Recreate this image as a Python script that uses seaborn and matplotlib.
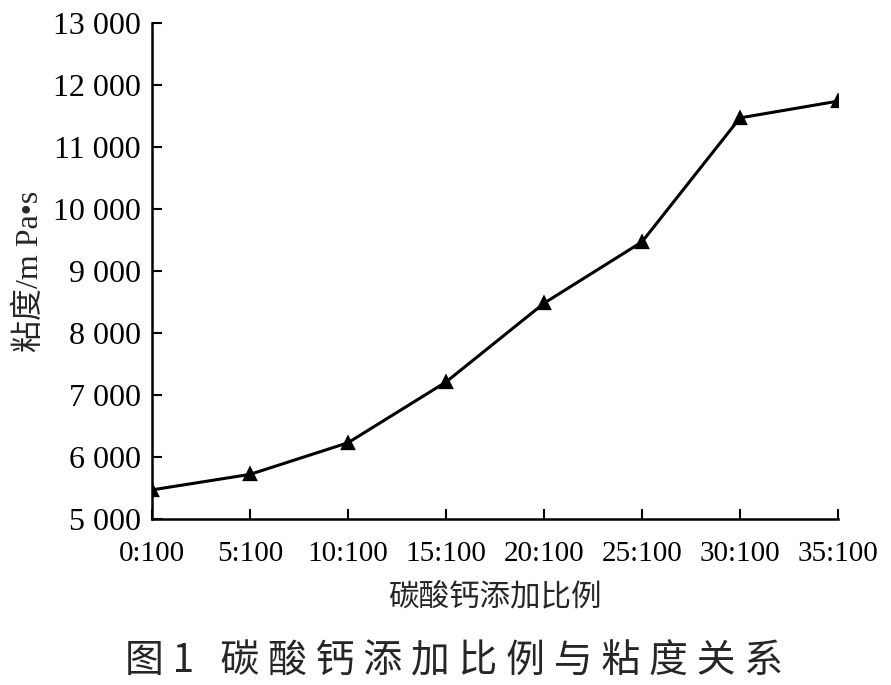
import numpy as np
import pandas as pd
import matplotlib.pyplot as plt
import seaborn as sns

### DATA ###
ratios = ['0:100', '5:100', '10:100', '15:100', '20:100', '25:100', '30:100', '35:100']
viscosity = [5470, 5720, 6230, 7210, 8480, 9470, 11470, 11740]
ytick_values = [5000, 6000, 7000, 8000, 9000, 10000, 11000, 12000, 13000]
ytick_labels = ['5 000', '6 000', '7 000', '8 000', '9 000', '10 000', '11 000', '12 000', '13 000']
xlabel = '碳酸钙添加比例'
ylabel = '粘度/m Pa•s'
caption = '图 1   碳 酸 钙 添 加 比 例 与 粘 度 关 系'

### STYLE ###
sns.set_style('ticks')
plt.rcParams['font.family'] = ['Liberation Serif', 'Noto Sans CJK SC', 'DejaVu Sans']

df = pd.DataFrame({'ratio': ratios, 'viscosity': viscosity})

fig = plt.figure(figsize=(8.91, 6.85), dpi=100)
ax = fig.add_axes([0.1706, 0.2423, 0.9405 - 0.1706, 0.9664 - 0.2423])

sns.pointplot(data=df, x='ratio', y='viscosity', ax=ax, color='black',
              marker='^', markersize=8, linewidth=2.2, errorbar=None)

# AXES
ax.set_xlim(0, len(ratios) - 1)
ax.set_ylim(ytick_values[0], ytick_values[-1])
ax.set_yticks(ytick_values)
ax.set_yticklabels(ytick_labels)
ax.tick_params(axis='y', direction='in', length=7, width=1.5, labelsize=23,
               colors='black', pad=8)
ax.tick_params(axis='x', direction='in', length=7, width=1.5, labelsize=21,
               colors='black', pad=16)
sns.despine(ax=ax)
for side in ['left', 'bottom']:
    ax.spines[side].set_linewidth(1.8)
    ax.spines[side].set_color('black')

ax.set_xlabel(xlabel, fontsize=22, family=['Noto Sans CJK SC'], labelpad=10)
ax.set_ylabel(ylabel, fontsize=23, family=['Liberation Serif', 'Noto Sans CJK SC'], labelpad=6)

fig.text(0.51, 0.035, caption, ha='center', va='center', fontsize=28,
         fontweight='medium', family=['Noto Sans CJK SC', 'DejaVu Sans'])

plt.savefig('out.png', dpi=100)
